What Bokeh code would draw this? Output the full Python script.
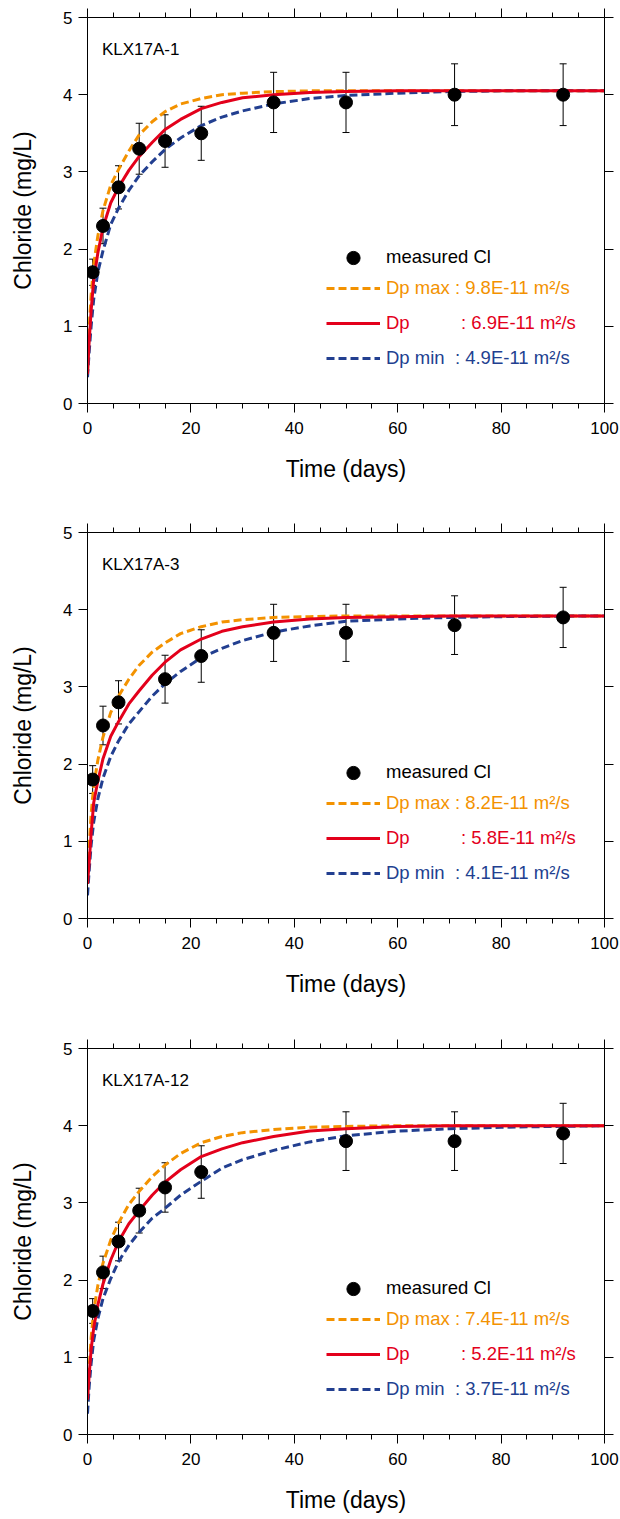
from bokeh.plotting import figure
from bokeh.layouts import column
from bokeh.models import (ColumnDataSource, Whisker, TeeHead, Label, Legend, LegendItem,
                          LinearAxis, FixedTicker, CustomJSTickFormatter)
from bokeh.embed import file_html
from bokeh.resources import INLINE

# ---------------- data ----------------
sample_names = ["KLX17A-1", "KLX17A-3", "KLX17A-12"]

time_a = [1, 3, 6, 10, 15, 22, 36, 50, 71, 92]
chloride_a = [1.7, 2.3, 2.8, 3.3, 3.4, 3.5, 3.9, 3.9, 4.0, 4.0]
error_a = [0.17, 0.23, 0.28, 0.33, 0.34, 0.35, 0.39, 0.39, 0.40, 0.40]

time_b = [1, 3, 6, 15, 22, 36, 50, 71, 92]
chloride_b = [1.8, 2.5, 2.8, 3.1, 3.4, 3.7, 3.7, 3.8, 3.9]
error_b = [0.18, 0.25, 0.28, 0.31, 0.34, 0.37, 0.37, 0.38, 0.39]

time_c = [1, 3, 6, 10, 15, 22, 50, 71, 92]
chloride_c = [1.6, 2.1, 2.5, 2.9, 3.2, 3.4, 3.8, 3.8, 3.9]
error_c = [0.16, 0.21, 0.25, 0.29, 0.32, 0.34, 0.38, 0.38, 0.39]

model_time = [0, 0.3, 0.7, 1.2, 2, 3, 4.5, 6, 8, 10, 12.5, 15, 18, 22, 26, 30, 36, 43, 50, 60, 70, 80, 100]

dpmax_a = [0.40, 0.95, 1.40, 1.80, 2.17, 2.50, 2.83, 3.03, 3.27, 3.48, 3.65, 3.78, 3.88, 3.95, 4.00, 4.02, 4.04, 4.05, 4.05, 4.05, 4.05, 4.05, 4.05]
dp_a = [0.38, 0.78, 1.20, 1.60, 1.95, 2.28, 2.60, 2.80, 3.02, 3.20, 3.38, 3.55, 3.68, 3.82, 3.90, 3.96, 4.00, 4.03, 4.04, 4.05, 4.05, 4.05, 4.05]
dpmin_a = [0.34, 0.65, 1.00, 1.35, 1.70, 1.98, 2.32, 2.53, 2.76, 2.95, 3.13, 3.29, 3.44, 3.60, 3.71, 3.79, 3.88, 3.95, 3.99, 4.02, 4.04, 4.05, 4.05]

dpmax_b = [0.45, 0.90, 1.35, 1.72, 2.05, 2.35, 2.67, 2.88, 3.10, 3.28, 3.45, 3.57, 3.69, 3.78, 3.84, 3.87, 3.90, 3.91, 3.92, 3.92, 3.92, 3.92, 3.92]
dp_b = [0.45, 0.70, 1.10, 1.50, 1.78, 2.07, 2.36, 2.55, 2.78, 2.95, 3.15, 3.32, 3.48, 3.62, 3.72, 3.78, 3.84, 3.88, 3.90, 3.91, 3.92, 3.92, 3.92]
dpmin_b = [0.30, 0.60, 0.95, 1.25, 1.55, 1.82, 2.10, 2.30, 2.52, 2.68, 2.88, 3.04, 3.20, 3.38, 3.50, 3.60, 3.71, 3.79, 3.85, 3.88, 3.90, 3.91, 3.92]

dpmax_c = [0.45, 0.85, 1.25, 1.60, 1.93, 2.22, 2.52, 2.74, 2.98, 3.15, 3.34, 3.49, 3.64, 3.78, 3.86, 3.91, 3.95, 3.98, 3.99, 4.00, 4.00, 4.00, 4.00]
dp_c = [0.45, 0.75, 1.10, 1.38, 1.68, 1.95, 2.26, 2.50, 2.73, 2.90, 3.10, 3.27, 3.43, 3.60, 3.70, 3.78, 3.86, 3.93, 3.96, 3.99, 4.00, 4.00, 4.00]
dpmin_c = [0.27, 0.60, 0.92, 1.22, 1.50, 1.76, 2.02, 2.24, 2.45, 2.62, 2.80, 2.93, 3.10, 3.28, 3.45, 3.56, 3.68, 3.79, 3.87, 3.93, 3.96, 3.98, 4.00]

dpmax_labels = ["9.8E-11", "8.2E-11", "7.4E-11"]
dp_labels = ["6.9E-11", "5.8E-11", "5.2E-11"]
dpmin_labels = ["4.9E-11", "4.1E-11", "3.7E-11"]

x_ticks = [0, 20, 40, 60, 80, 100]
x_minor_ticks = [5, 10, 15, 25, 30, 35, 45, 50, 55, 65, 70, 75, 85, 90, 95]
y_ticks = [0, 1, 2, 3, 4, 5]

# ---------------- style ----------------
FONT = "Liberation Sans"
ORANGE = "#F39200"
RED = "#E3001B"
BLUE = "#223F90"
NB = "\u00a0"

panels = [
    (time_a, chloride_a, error_a, dpmax_a, dp_a, dpmin_a),
    (time_b, chloride_b, error_b, dpmax_b, dp_b, dpmin_b),
    (time_c, chloride_c, error_c, dpmax_c, dp_c, dpmin_c),
]
heights = [516, 516, 487]
tops = [17, 16, 16]
bottoms = [113, 114, 85]


def style_axis(ax, labels=True):
    ax.axis_line_color = "black"
    ax.axis_line_width = 1
    ax.major_tick_line_color = "black"
    ax.minor_tick_line_color = "black"
    ax.major_tick_in = 0
    ax.major_tick_out = 9
    ax.minor_tick_in = 0
    ax.minor_tick_out = 5
    ax.major_label_text_font = FONT
    ax.major_label_text_font_size = "17px"
    ax.major_label_text_color = "black"
    ax.axis_label_text_font = FONT
    ax.axis_label_text_font_size = "23px"
    ax.axis_label_text_font_style = "normal"
    ax.axis_label_text_color = "black"
    if not labels:
        ax.formatter = CustomJSTickFormatter(code="return ''")
        ax.major_label_standoff = 0
        ax.major_label_text_font_size = "0px"


figs = []
for i, (t, c, e, cmax, cdp, cmin) in enumerate(panels):
    p = figure(width=620, height=heights[i], x_range=(0, 100), y_range=(0, 5),
               output_backend="svg", toolbar_location=None,
               min_border_left=87, min_border_right=16,
               min_border_top=tops[i], min_border_bottom=bottoms[i])
    p.xgrid.visible = False
    p.ygrid.visible = False
    p.outline_line_color = None
    p.background_fill_color = "white"
    p.border_fill_color = "white"

    xt = FixedTicker(ticks=x_ticks, minor_ticks=x_minor_ticks)
    yt = FixedTicker(ticks=y_ticks)
    p.xaxis.ticker = xt
    p.yaxis.ticker = yt
    p.xaxis.axis_label = "Time (days)"
    p.yaxis.axis_label = "Chloride (mg/L)"
    style_axis(p.xaxis[0])
    style_axis(p.yaxis[0])
    p.yaxis.minor_tick_line_color = None
    p.xaxis.major_label_standoff = 9
    p.xaxis.axis_label_standoff = 19
    p.yaxis.major_label_standoff = 6
    p.yaxis.axis_label_standoff = 24

    top_ax = LinearAxis(ticker=FixedTicker(ticks=x_ticks, minor_ticks=x_minor_ticks))
    style_axis(top_ax, labels=False)
    p.add_layout(top_ax, "above")
    right_ax = LinearAxis(ticker=FixedTicker(ticks=y_ticks))
    style_axis(right_ax, labels=False)
    right_ax.minor_tick_line_color = None
    p.add_layout(right_ax, "right")

    msrc = ColumnDataSource(dict(t=model_time, cmax=cmax, cdp=cdp, cmin=cmin))
    r_max = p.line("t", "cmax", source=msrc, line_color=ORANGE, line_width=3,
                   line_dash="8 4")
    r_min = p.line("t", "cmin", source=msrc, line_color=BLUE, line_width=3,
                   line_dash="8 4")
    r_dp = p.line("t", "cdp", source=msrc, line_color=RED, line_width=3)

    upper = [ci + ei for ci, ei in zip(c, e)]
    lower = [ci - ei for ci, ei in zip(c, e)]
    dsrc = ColumnDataSource(dict(t=t, c=c, upper=upper, lower=lower))
    w = Whisker(base="t", upper="upper", lower="lower", source=dsrc,
                line_color="black", line_width=1,
                upper_head=TeeHead(size=7, line_color="black", line_width=1),
                lower_head=TeeHead(size=7, line_color="black", line_width=1))
    p.add_layout(w)
    r_pts = p.scatter("t", "c", source=dsrc, size=13, fill_color="black",
                      line_color="black", marker="circle")

    p.add_layout(Label(x=2.8, y=4.58, text=sample_names[i], text_font=FONT,
                       text_font_size="17px", text_color="black",
                       text_baseline="alphabetic"))

    entries = [
        ("measured Cl", r_pts, "black", 129.5, 33),
        ("Dp max : " + dpmax_labels[i] + " m\u00b2/s", r_max, ORANGE, 103, 24),
        ("Dp" + NB * 10 + ": " + dp_labels[i] + " m\u00b2/s", r_dp, RED, 68, 24),
        ("Dp min" + NB * 2 + ": " + dpmin_labels[i] + " m\u00b2/s", r_min, BLUE, 33, 24),
    ]
    for text, rend, col, yoff, gh in entries:
        lg = Legend(items=[LegendItem(label=text, renderers=[rend])],
                    location=(239, yoff), margin=0, padding=0,
                    border_line_color=None, background_fill_alpha=0,
                    glyph_width=54, glyph_height=gh, label_height=gh,
                    label_standoff=6, label_text_font=FONT,
                    label_text_font_size="18.5px", label_text_color=col)
        p.add_layout(lg)
    figs.append(p)

layout = column(*figs, spacing=0)
open("out.html", "w").write(file_html(layout, INLINE))
